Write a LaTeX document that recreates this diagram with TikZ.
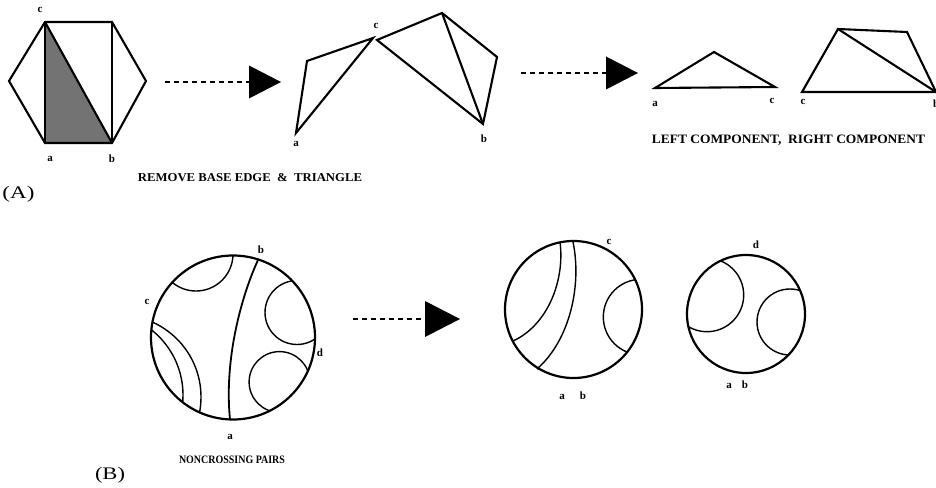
\documentclass[tikz,border=0pt]{standalone}
\usepackage{fontspec}
\setmainfont{Liberation Serif}
\usepackage{graphicx}
\begin{document}
\begin{tikzpicture}[x=1pt,y=-1pt,
  poly/.style={line width=2.1pt, line join=miter},
  rim/.style={line width=2.2pt},
  chord/.style={line width=1.4pt},
  dashline/.style={line width=2pt, dash pattern=on 5pt off 4pt},
  lbl/.style={font=\bfseries\fontsize{11}{11}\selectfont, inner sep=0pt},
  captext/.style={inner sep=0pt, font=\bfseries},
  paren/.style={inner sep=0pt}
]
\useasboundingbox (0,0) rectangle (936,487);

% ---------- (A) hexagon ----------
\coordinate (hc) at (45,22);
\coordinate (htr) at (112,22);
\coordinate (hr) at (146,81);
\coordinate (hb) at (112,143);
\coordinate (ha) at (45,143);
\coordinate (hl) at (9,81);
\fill[black!55] (hc) -- (ha) -- (hb) -- cycle;
\draw[poly] (hc) -- (htr) -- (hr) -- (hb) -- (ha) -- (hl) -- cycle;
\draw[poly] (hc) -- (ha);
\draw[poly] (hc) -- (hb);
\draw[poly] (htr) -- (hb);
\node[lbl] (lhc) at (40,10) {c};
\node[lbl] (lha) at (50,159) {a};
\node[lbl] (lhb) at (112,159) {b};

% arrow 1
\coordinate (s1) at (165,82);
\coordinate (t1) at (249,82);
\draw[dashline] (s1) -- (t1);
\fill (t1) ++(0,-16.5) -- ++(32,16.5) -- ++(-32,16.5) -- cycle;

% piece 1
\coordinate (p1a) at (296,133);
\coordinate (p1t) at (307,61);
\coordinate (p1c) at (373,38);
\draw[poly] (p1a) -- (p1t) -- (p1c) -- cycle;
\node[lbl] (lp1a) at (296,144) {a};
\node[lbl] (lp1c) at (376,26) {c};

% piece 2
\coordinate (p2c) at (377,40);
\coordinate (p2t) at (442,13);
\coordinate (p2r) at (497,57);
\coordinate (p2b) at (483,124);
\draw[poly] (p2c) -- (p2t) -- (p2r) -- (p2b) -- cycle;
\draw[poly] (p2t) -- (p2b);
\node[lbl] (lp2b) at (484,139) {b};

% arrow 2
\coordinate (s2) at (521,73);
\coordinate (t2) at (606,73);
\draw[dashline] (s2) -- (t2);
\fill (t2) ++(0,-16.5) -- ++(32,16.5) -- ++(-32,16.5) -- cycle;

% left component
\coordinate (lca) at (655,88);
\coordinate (lct) at (714,52);
\coordinate (lcc) at (775,87);
\draw[poly] (lca) -- (lct) -- (lcc) -- cycle;
\node[lbl] (llca) at (655,104) {a};
\node[lbl] (llcc) at (772,101) {c};

% right component
\coordinate (rcc) at (802,92);
\coordinate (rctl) at (838,29);
\coordinate (rctr) at (907,32);
\coordinate (rcb) at (936,92);
\draw[poly] (rcc) -- (rctl) -- (rctr) -- (rcb) -- cycle;
\draw[poly] (rctl) -- (rcb);
\node[lbl] (lrcc) at (803,102) {c};
\node[lbl, anchor=west] (lrcb) at (933,104) {b};

% captions A
\node[captext] (capA) at (250,178) {\resizebox{224pt}{8pt}{REMOVE BASE EDGE\ \ \&\ \ TRIANGLE}};
\node[captext] (capLR) at (788.5,140) {\resizebox{273pt}{8.5pt}{LEFT COMPONENT,\ \ RIGHT COMPONENT}};
\node[paren] (labA) at (18.5,194) {\resizebox*{32pt}{16pt}{(A)}};

% ---------- (B) circle 1 ----------
\draw[rim] (233,337.5) circle[radius=82pt];
\begin{scope}
  \clip (233,337.5) circle[radius=82pt];
  \draw[chord] (196,254) circle[radius=37pt];
  \draw[chord] (297,312.5) circle[radius=32pt];
  \draw[chord] (279.5,382) circle[radius=30.4pt];
  \draw[chord] (119,397) circle[radius=82pt];
  \draw[chord] (100,395) circle[radius=83pt];
\end{scope}
\coordinate (c1b) at (258,260);
\coordinate (c1a) at (230,419.5);
\draw[chord, line width=1.8pt] (c1b) .. controls (241,297) and (224,360) .. (c1a);
\node[lbl] (lc1b) at (261,250) {b};
\node[lbl] (lc1c) at (147,302) {c};
\node[lbl] (lc1d) at (320,353) {d};
\node[lbl] (lc1a) at (230,437) {a};

% arrow B
\coordinate (sB) at (353,319);
\coordinate (tB) at (425,319);
\draw[dashline] (sB) -- (tB);
\fill (tB) ++(0,-18) -- ++(35,18) -- ++(-35,18) -- cycle;

% circle 2
\draw[rim] (573.5,309.5) circle[radius=68.5pt];
\begin{scope}
  \clip (573.5,309.5) circle[radius=68.5pt];
  \draw[chord] (641,317) circle[radius=37.7pt];
\end{scope}
\coordinate (c2p) at (560,242);
\coordinate (c2q) at (513,341);
\coordinate (c2r) at (573,242);
\coordinate (c2s) at (537,369);
\draw[chord] (c2p) .. controls (565,280) and (548,325) .. (c2q);
\draw[chord] (c2r) .. controls (582,285) and (570,340) .. (c2s);
\node[lbl] (lc2c) at (609,242) {c};
\node[lbl] (lc2a) at (562,397) {a};
\node[lbl] (lc2b) at (583,396) {b};

% circle 3
\draw[rim] (746,314) circle[radius=59pt];
\begin{scope}
  \clip (746,314) circle[radius=59pt];
  \draw[chord] (707,295) circle[radius=36.7pt];
  \draw[chord] (790,322) circle[radius=33pt];
\end{scope}
\node[lbl] (lc3d) at (756,245) {d};
\node[lbl] (lc3a) at (729,386) {a};
\node[lbl] (lc3b) at (745,385) {b};

% captions B
\node[captext] (capB) at (232,460) {\resizebox{106pt}{7.5pt}{NONCROSSING PAIRS}};
\node[paren] (labB) at (110,475) {\resizebox*{30pt}{16pt}{(B)}};
\end{tikzpicture}
\end{document}
